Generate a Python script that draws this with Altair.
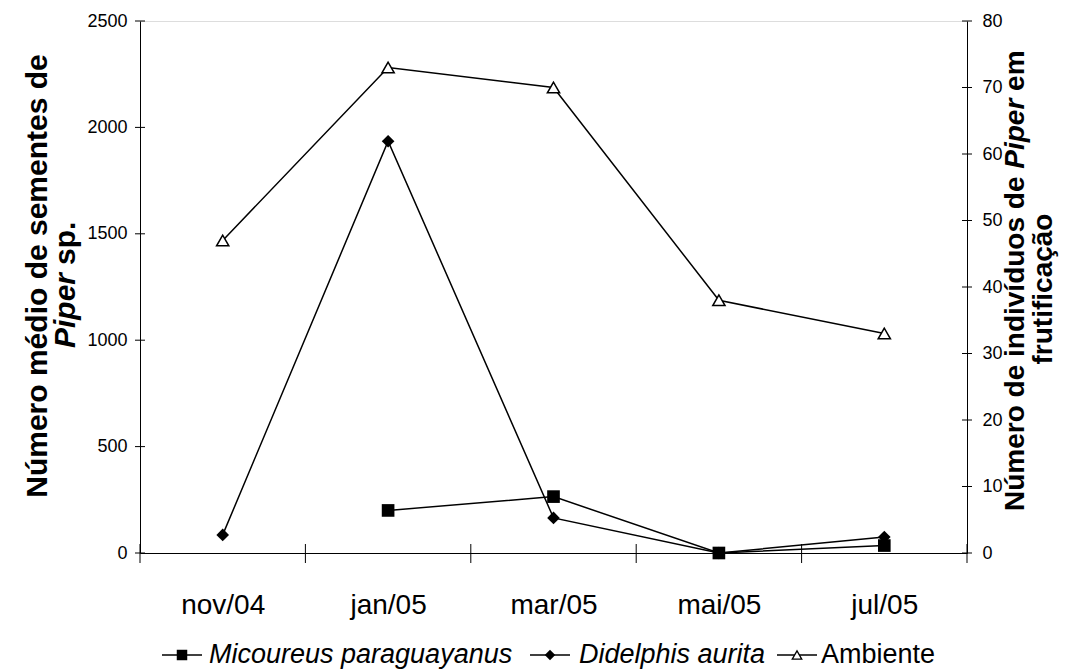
import altair as alt
import pandas as pd

# ---- data ----
months = ["nov/04", "jan/05", "mar/05", "mai/05", "jul/05"]
micoureus = [None, 200, 265, 0, 35]
didelphis = [85, 1935, 165, 0, 75]
ambiente = [47, 73, 70, 38, 33]
series_names = ["Micoureus paraguayanus", "Didelphis aurita", "Ambiente"]
left_ticks = [0, 500, 1000, 1500, 2000, 2500]
right_ticks = [0, 10, 20, 30, 40, 50, 60, 70, 80]
left_title = ["Número médio de sementes de", "Piper", "sp."]
right_title = ["Número de indivíduos de", "Piper", "em", "frutificação"]

W, H = 827, 532
FONT = "Liberation Sans"

rows = []
for m, a, b in zip(months, micoureus, didelphis):
    if a is not None:
        rows.append({"month": m, "series": series_names[0], "value": a})
    rows.append({"month": m, "series": series_names[1], "value": b})
left_df = pd.DataFrame(rows)
right_df = pd.DataFrame({"month": months, "series": series_names[2], "value": ambiente})

x_scale = alt.Scale(type="band", domain=months, paddingInner=0, paddingOuter=0)
x_axis = alt.Axis(title=None, ticks=False, tickBand="extent", grid=False,
                  domainColor="black", domainWidth=1, labelAngle=0,
                  labelFont=FONT, labelFontSize=28, labelColor="black",
                  labelPadding=38, labelBaseline="top")


def X(b=0.5):
    return alt.X("month:N", scale=x_scale, axis=x_axis, bandPosition=b)


yL = alt.Y("value:Q", scale=alt.Scale(domain=[0, 2500], nice=False, zero=True),
           axis=alt.Axis(orient="left", values=left_ticks, title=None, ticks=False,
                         format="d", grid=False, domainColor="black", labelFont=FONT,
                         labelFontSize=18, labelColor="black", labelPadding=13))
yR = alt.Y("value:Q", scale=alt.Scale(domain=[0, 80], nice=False, zero=True),
           axis=alt.Axis(orient="right", values=right_ticks, title=None, ticks=False,
                         format="d", grid=False, domainColor="black", labelFont=FONT,
                         labelFontSize=18, labelColor="black", labelPadding=15))

left_lines = alt.Chart(left_df).mark_line(color="black", strokeWidth=1.5).encode(
    x=X(), y=yL, detail="series:N")
left_pts = alt.Chart(left_df).mark_point(filled=True, color="black", size=160, opacity=1).encode(
    x=X(), y=yL,
    shape=alt.Shape("series:N", scale=alt.Scale(domain=series_names[:2], range=["square", "diamond"]),
                    legend=None))
left_tick_rules = alt.Chart(pd.DataFrame({"value": left_ticks})).mark_rule(color="black").encode(
    y=yL, x=alt.value(-5), x2=alt.value(5))
left_group = alt.layer(left_tick_rules, left_lines, left_pts)

right_lines = alt.Chart(right_df).mark_line(color="black", strokeWidth=1.5).encode(x=X(), y=yR)
right_pts = alt.Chart(right_df).mark_point(shape="triangle-up", filled=True, fill="white",
                                           stroke="black", strokeWidth=1.5, size=150,
                                           opacity=1).encode(x=X(), y=yR)
right_tick_rules = alt.Chart(pd.DataFrame({"value": right_ticks})).mark_rule(color="black").encode(
    y=yR, x=alt.value(W - 5), x2=alt.value(W + 5))
right_group = alt.layer(right_tick_rules, right_lines, right_pts)

# x ticks at the band boundaries
xt1 = alt.Chart(pd.DataFrame({"month": months})).mark_rule(color="black").encode(
    x=X(0), y=alt.value(H - 9), y2=alt.value(H + 10))
xt2 = alt.Chart(pd.DataFrame({"month": months[-1:]})).mark_rule(color="black").encode(
    x=X(1), y=alt.value(H - 9), y2=alt.value(H + 10))


def txt(s, x, y, size=28, weight="bold", style="normal", angle=270, align="center"):
    return alt.Chart(pd.DataFrame({"t": [s]})).mark_text(
        font=FONT, fontSize=size, fontWeight=weight, fontStyle=style, angle=angle,
        align=align, baseline="middle", color="black").encode(
        text="t:N", x=alt.value(x), y=alt.value(y))


TS = 30
# left title
lt = [
    txt(left_title[0], -102, 255, TS),
    txt(left_title[1], -74, 252, TS, style="italic", align="right"),
    txt(left_title[2], -74, 244, TS, align="left"),
]
# right title
TR = 28
y0 = 490
w1 = 12.225 * TR
w2 = 2.779 * TR
rt = [
    txt(right_title[0], 876, y0, TR, align="left"),
    txt(right_title[1], 876, y0 - w1, TR, style="italic", align="left"),
    txt(right_title[2], 876, y0 - w1 - w2, TR, align="left"),
    txt(right_title[3], 904, 268, TR),
]

# legend
LY = 634
leg_sym_x = [42, 410, 657]
leg_txt_x = [69, 439, 681]
leg_styles = ["italic", "italic", "normal"]
leg = []
for i in range(3):
    cx = leg_sym_x[i]
    leg.append(alt.Chart(pd.DataFrame({"a": [0]})).mark_rule(color="black", strokeWidth=1.5).encode(
        x=alt.value(cx - 20), x2=alt.value(cx + 20), y=alt.value(LY)))
    if i < 2:
        leg.append(alt.Chart(pd.DataFrame({"a": [0]})).mark_point(
            shape=["square", "diamond"][i], filled=True, color="black", size=110, opacity=1).encode(
            x=alt.value(cx), y=alt.value(LY)))
    else:
        leg.append(alt.Chart(pd.DataFrame({"a": [0]})).mark_point(
            shape="triangle-up", filled=True, fill="white", stroke="black", strokeWidth=1.3,
            size=90, opacity=1).encode(x=alt.value(cx), y=alt.value(LY)))
    leg.append(txt(series_names[i], leg_txt_x[i], LY, 27, weight="normal",
                   style=leg_styles[i], angle=0, align="left"))

chart = alt.layer(left_group, right_group, xt1, xt2, *lt, *rt, *leg).resolve_scale(
    y="independent"
).properties(
    width=W, height=H,
    autosize=alt.AutoSizeParams(type="none"),
    padding={"left": 132, "top": 13, "right": 97, "bottom": 116},
).configure_view(stroke=None).configure(background="white")

chart.save("out.html", embed_options={"renderer": "svg", "actions": False})
